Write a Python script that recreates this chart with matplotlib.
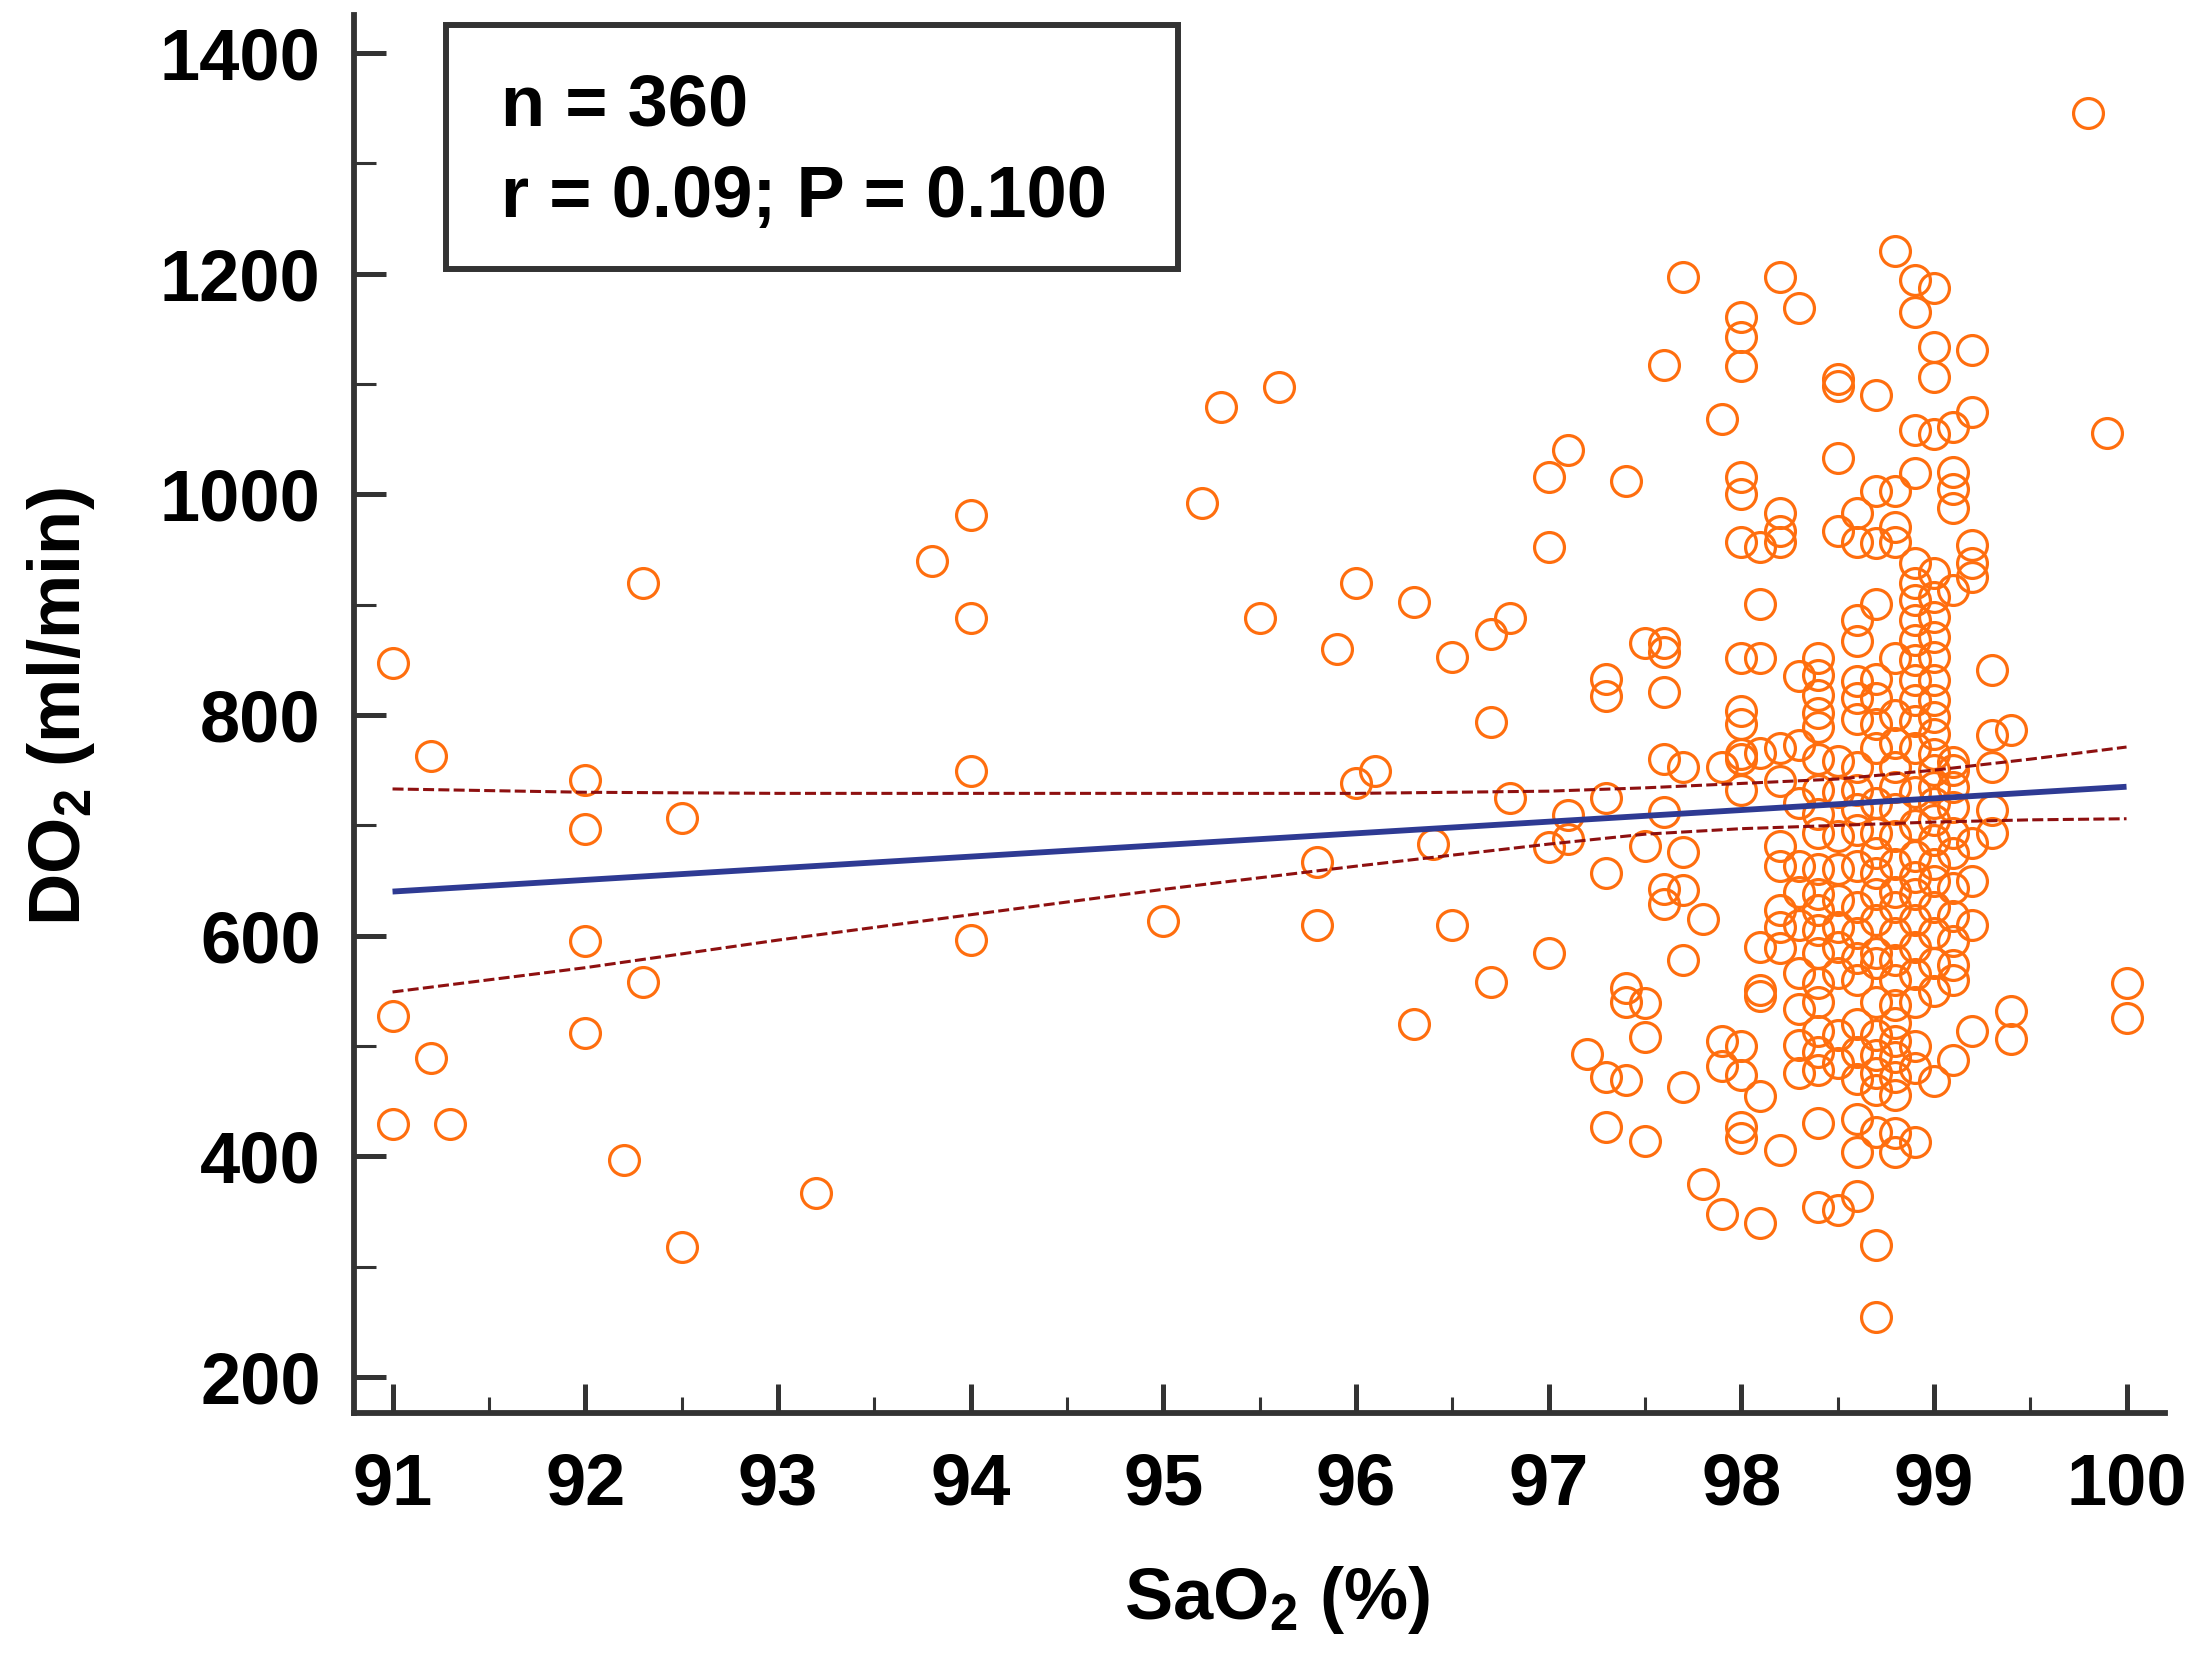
import matplotlib
matplotlib.use("Agg")
import matplotlib.pyplot as plt
from matplotlib.patches import Rectangle
from matplotlib.ticker import MultipleLocator

# ---------------- data ----------------
sao2 = [
    91.0, 91.0, 91.0,
    91.2, 91.2,
    91.3,
    92.0, 92.0, 92.0, 92.0,
    92.2,
    92.3, 92.3,
    92.5, 92.5,
    93.2,
    93.8,
    94.0, 94.0, 94.0, 94.0,
    95.0,
    95.2,
    95.3,
    95.5,
    95.6,
    95.8, 95.8,
    95.9,
    96.0, 96.0,
    96.1,
    96.3, 96.3,
    96.4,
    96.5, 96.5,
    96.7, 96.7, 96.7,
    96.8, 96.8,
    97.0, 97.0, 97.0, 97.0,
    97.1, 97.1, 97.1,
    97.2,
    97.3, 97.3, 97.3, 97.3, 97.3, 97.3,
    97.4, 97.4, 97.4, 97.4,
    97.5, 97.5, 97.5, 97.5, 97.5,
    97.6, 97.6, 97.6, 97.6, 97.6, 97.6, 97.6, 97.6,
    97.7, 97.7, 97.7, 97.7, 97.7, 97.7,
    97.8, 97.8,
    97.9, 97.9, 97.9, 97.9, 97.9,
    98.0, 98.0, 98.0, 98.0, 98.0, 98.0, 98.0, 98.0, 98.0, 98.0, 98.0, 98.0, 98.0, 98.0, 98.0, 98.0,
    98.1, 98.1, 98.1, 98.1, 98.1, 98.1, 98.1, 98.1, 98.1,
    98.2, 98.2, 98.2, 98.2, 98.2, 98.2, 98.2, 98.2, 98.2, 98.2, 98.2, 98.2,
    98.3, 98.3, 98.3, 98.3, 98.3, 98.3, 98.3, 98.3, 98.3, 98.3, 98.3,
    98.4, 98.4, 98.4, 98.4, 98.4, 98.4, 98.4, 98.4, 98.4, 98.4, 98.4, 98.4, 98.4, 98.4, 98.4, 98.4, 98.4, 98.4, 98.4, 98.4, 98.4,
    98.5, 98.5, 98.5, 98.5, 98.5, 98.5, 98.5, 98.5, 98.5, 98.5, 98.5, 98.5, 98.5, 98.5, 98.5,
    98.6, 98.6, 98.6, 98.6, 98.6, 98.6, 98.6, 98.6, 98.6, 98.6, 98.6, 98.6, 98.6, 98.6, 98.6, 98.6, 98.6, 98.6, 98.6, 98.6, 98.6, 98.6,
    98.7, 98.7, 98.7, 98.7, 98.7, 98.7, 98.7, 98.7, 98.7, 98.7, 98.7, 98.7, 98.7, 98.7, 98.7, 98.7, 98.7, 98.7, 98.7, 98.7, 98.7, 98.7, 98.7, 98.7,
    98.8, 98.8, 98.8, 98.8, 98.8, 98.8, 98.8, 98.8, 98.8, 98.8, 98.8, 98.8, 98.8, 98.8, 98.8, 98.8, 98.8, 98.8, 98.8, 98.8, 98.8, 98.8, 98.8, 98.8, 98.8,
    98.9, 98.9, 98.9, 98.9, 98.9, 98.9, 98.9, 98.9, 98.9, 98.9, 98.9, 98.9, 98.9, 98.9, 98.9, 98.9, 98.9, 98.9, 98.9, 98.9, 98.9, 98.9, 98.9, 98.9, 98.9, 98.9,
    99.0, 99.0, 99.0, 99.0, 99.0, 99.0, 99.0, 99.0, 99.0, 99.0, 99.0, 99.0, 99.0, 99.0, 99.0, 99.0, 99.0, 99.0, 99.0, 99.0, 99.0, 99.0, 99.0, 99.0, 99.0, 99.0,
    99.1, 99.1, 99.1, 99.1, 99.1, 99.1, 99.1, 99.1, 99.1, 99.1, 99.1, 99.1, 99.1, 99.1, 99.1, 99.1, 99.1,
    99.2, 99.2, 99.2, 99.2, 99.2, 99.2, 99.2, 99.2, 99.2,
    99.3, 99.3, 99.3, 99.3, 99.3,
    99.4, 99.4, 99.4,
    99.8,
    99.9,
    100.0, 100.0,
]

do2 = [
    847, 527, 429,
    763, 489,
    429,
    741, 697, 595, 512,
    397,
    920, 558,
    707, 318,
    367,
    940,
    981, 888, 749, 596,
    613,
    992,
    1079,
    888,
    1097,
    667, 610,
    860,
    920, 738,
    749,
    902, 520,
    683,
    853, 610,
    873, 794, 558,
    888, 725,
    1016, 952, 680, 584,
    1040, 709, 688,
    493,
    833, 817, 725, 657, 472, 427,
    1012, 553, 540, 469,
    865, 681, 539, 508, 414,
    1117, 865, 857, 821, 760, 712, 642, 629,
    1197, 753, 676, 641, 578, 463,
    615, 375,
    1068, 753, 505, 482, 348,
    1161, 1143, 1116, 1016, 1000, 957, 852, 804, 792, 765, 760, 732, 500, 474, 427, 417,
    952, 901, 852, 766, 590, 551, 545, 455, 340,
    1197, 983, 967, 957, 770, 740, 681, 663, 623, 608, 589, 406,
    1169, 835, 773, 720, 663, 640, 610, 566, 534, 501, 476,
    852, 836, 818, 802, 789, 760, 732, 710, 693, 660, 638, 623, 605, 584, 557, 540, 514, 495, 478, 430, 354,
    1105, 1098, 1033, 967, 758, 730, 690, 660, 632, 608, 590, 566, 510, 485, 351,
    983, 957, 886, 867, 831, 815, 796, 753, 732, 715, 696, 663, 626, 602, 580, 560, 520, 495, 470, 434, 404, 364,
    1090, 1003, 956, 901, 833, 815, 792, 770, 720, 693, 675, 657, 638, 614, 584, 575, 540, 510, 492, 476, 460, 422, 320, 254,
    1221, 1003, 970, 957, 852, 800, 775, 753, 735, 715, 690, 665, 640, 626, 602, 578, 560, 537, 521, 505, 490, 472, 456, 421, 404,
    1194, 1165, 1058, 1019, 938, 920, 904, 886, 868, 850, 832, 814, 795, 770, 730, 700, 672, 653, 638, 614, 590, 565, 540, 500, 480, 413,
    1187, 1134, 1106, 1055, 929, 907, 889, 871, 853, 832, 814, 798, 783, 765, 750, 735, 720, 705, 687, 665, 650, 626, 602, 575, 550, 468,
    1061, 1020, 1005, 988, 913, 757, 750, 735, 717, 693, 675, 643, 618, 595, 573, 560, 487,
    1131, 1075, 954, 938, 925, 684, 650, 610, 514,
    841, 782, 753, 714, 693,
    786, 532, 506,
    1346,
    1056,
    557, 525,
]

# regression line and its confidence band
fit_x = [91.0, 100.0]
fit_y = [640, 735]
band_x = [91.0, 92.0, 93.0, 94.0, 95.0, 96.0, 97.0, 97.5, 98.0, 98.5, 99.0, 99.5, 100.0]
band_upper = [733, 730, 729, 729, 729, 729, 731, 734, 738, 742, 750, 760, 771]
band_lower = [549, 571, 596, 619, 642, 663, 683, 692, 697, 700, 703, 705, 706]

x_ticks = [91, 92, 93, 94, 95, 96, 97, 98, 99, 100]
y_ticks = [200, 400, 600, 800, 1000, 1200, 1400]
stats_lines = ["n = 360", "r = 0.09; P = 0.100"]

assert len(sao2) == len(do2), (len(sao2), len(do2))

# ---------------- style ----------------
FONT = "Liberation Sans"
plt.rcParams["font.family"] = [FONT, "DejaVu Sans"]
plt.rcParams["font.weight"] = "bold"
plt.rcParams["mathtext.fontset"] = "custom"
plt.rcParams["mathtext.rm"] = FONT + ":bold"
plt.rcParams["mathtext.bf"] = FONT + ":bold"
plt.rcParams["mathtext.it"] = FONT + ":bold"

AX_COL = "#333333"
ORANGE = "#FF6E0E"
BLUE = "#2E3A93"
DRED = "#8E1010"
FS = 52

fig = plt.figure(figsize=(22.07, 16.61), dpi=100)
ax = fig.add_axes([0.1604, 0.1493, 0.8206, 0.8417])

ax.plot(sao2, do2, linestyle="none", marker="o", markersize=21.5,
        markerfacecolor="none", markeredgecolor=ORANGE, markeredgewidth=2.3,
        zorder=2)

ax.plot(fit_x, fit_y, color=BLUE, lw=4.2, solid_capstyle="butt", zorder=4)
for band in (band_upper, band_lower):
    ln, = ax.plot(band_x, band, color=DRED, lw=2.2, zorder=3)
    ln.set_dashes((3.6, 1.4))

ax.set_xlim(90.8, 100.2)
ax.set_ylim(167.4, 1434.5)

for side in ("top", "right"):
    ax.spines[side].set_visible(False)
for side in ("left", "bottom"):
    ax.spines[side].set_color(AX_COL)
    ax.spines[side].set_linewidth(4.2)

ax.set_xticks(x_ticks)
ax.set_yticks(y_ticks)
ax.xaxis.set_minor_locator(MultipleLocator(0.5))
ax.yaxis.set_minor_locator(MultipleLocator(100))
ax.set_xticklabels([str(t) for t in x_ticks])
ax.set_yticklabels([str(t) for t in y_ticks])

ax.tick_params(axis="x", which="major", direction="in", length=21, width=3.6,
               color=AX_COL, pad=28, labelsize=FS)
ax.tick_params(axis="x", which="minor", direction="in", length=11.5, width=2.2,
               color=AX_COL)
ax.tick_params(axis="y", which="major", direction="in", length=23, width=3.6,
               color=AX_COL, pad=24, labelsize=FS)
ax.tick_params(axis="y", which="minor", direction="in", length=16, width=2.2,
               color=AX_COL)
for lab in ax.get_xticklabels() + ax.get_yticklabels():
    lab.set_fontweight("bold")

ax.set_xlabel(r"SaO$_\mathrm{2}$ (%)", fontsize=FS, fontweight="bold")
ax.set_ylabel(r"DO$_\mathrm{2}$ (ml/min)", fontsize=FS, fontweight="bold")
ax.xaxis.set_label_coords(0.5097, -0.108)
ax.yaxis.set_label_coords(-0.142, 0.5054)

# statistics box
ax.add_patch(Rectangle((0.0508, 0.8183), 0.4042, 0.1745, transform=ax.transAxes,
                       fill=True, facecolor="white", edgecolor=AX_COL,
                       lw=4.3, zorder=5, clip_on=False))
ax.text(0.0812, 0.9206, stats_lines[0], transform=ax.transAxes, fontsize=FS,
        fontweight="bold", va="baseline", ha="left", zorder=6)
ax.text(0.0812, 0.8555, stats_lines[1], transform=ax.transAxes, fontsize=FS,
        fontweight="bold", va="baseline", ha="left", zorder=6)

fig.savefig("out.png", dpi=100, facecolor="white")
